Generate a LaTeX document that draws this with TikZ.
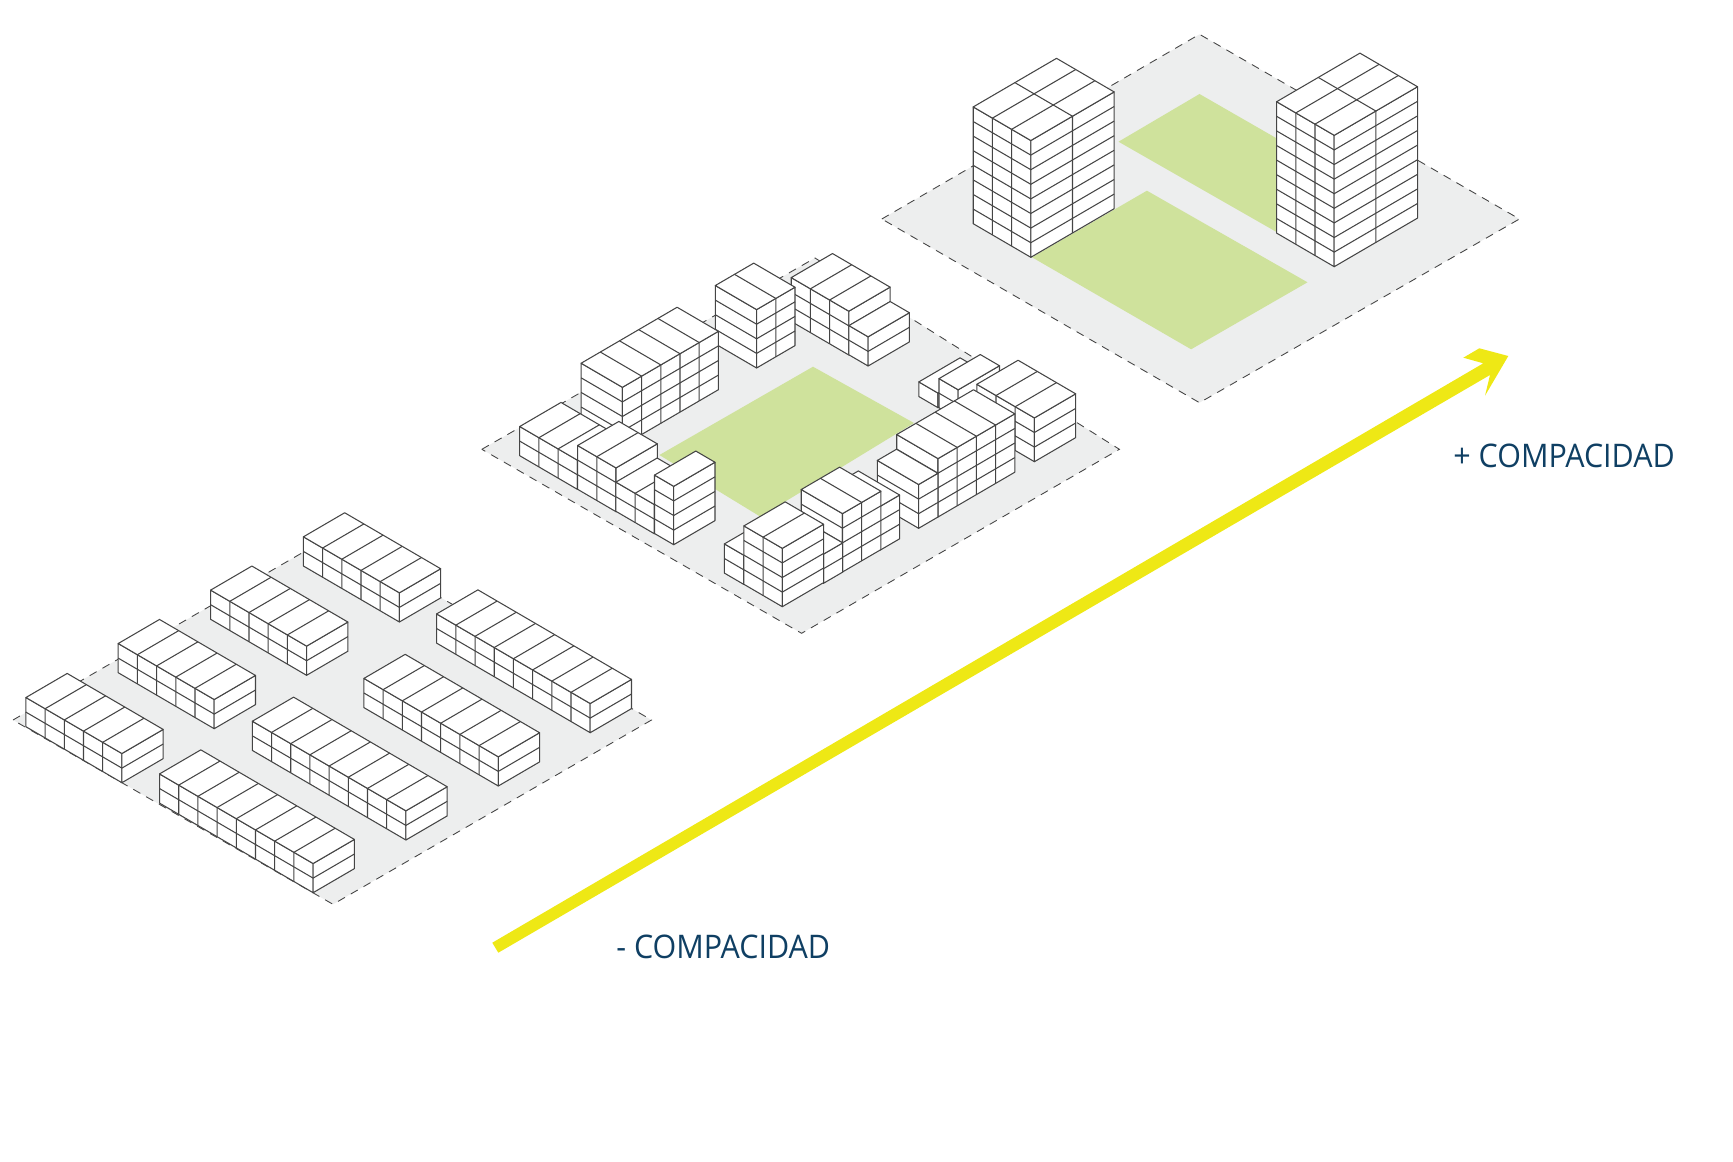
\documentclass[tikz,border=0pt]{standalone}
\usepackage{fontspec}
\setmainfont[FakeStretch=0.937]{Open Sans}
\definecolor{groundc}{HTML}{EDEEEE}
\definecolor{greenc}{HTML}{CFE29C}
\definecolor{arrowc}{HTML}{EEE815}
\definecolor{linec}{HTML}{454545}
\definecolor{textc}{HTML}{0F3F63}
% #1,#2 lowest front corner (px); #3 length along up-left, #4 divisions;
% #5 length along up-right, #6 divisions; #7 floors
\newcommand{\isobox}[7]{%
\begin{scope}[x={(-0.384cm,0.224cm)},y={(0.384cm,0.224cm)},z={(0cm,0.292cm)},xshift=#1*0.02cm,yshift=-#2*0.02cm]
\filldraw[blockface] (0,0,0)--(#3,0,0)--(#3,0,#7)--(0,0,#7)--cycle;
\filldraw[blockface] (0,0,0)--(0,#5,0)--(0,#5,#7)--(0,0,#7)--cycle;
\filldraw[blockface] (0,0,#7)--(#3,0,#7)--(#3,#5,#7)--(0,#5,#7)--cycle;
\foreach \k in {1,...,#7}{\ifnum\k<#7\relax\draw[blockline] (#3,0,\k)--(0,0,\k)--(0,#5,\k);\fi}
\foreach \i in {1,...,#4}{\ifnum\i<#4\relax
 \pgfmathsetmacro{\d}{\i*#3/#4}
 \draw[blockline] (\d,0,0)--(\d,0,#7)--(\d,#5,#7);\fi}
\foreach \j in {1,...,#6}{\ifnum\j<#6\relax
 \pgfmathsetmacro{\d}{\j*#5/#6}
 \draw[blockline] (0,\d,0)--(0,\d,#7)--(#3,\d,#7);\fi}
\end{scope}}
\tikzset{
 blockface/.style={fill=white,draw=linec,line width=0.6pt,line join=round},
 blockline/.style={draw=linec,line width=0.6pt},
 ground/.style={fill=groundc,draw=linec,line width=0.5pt,dash pattern=on 4.6pt off 3.8pt},
 lawn/.style={fill=greenc,draw=none},
 label/.style={text=textc,anchor=base west,inner sep=0pt,font=\fontsize{18.5pt}{20pt}\selectfont}
}
\begin{document}
\begin{tikzpicture}[x=0.02cm,y=-0.02cm]
\useasboundingbox (0,0) rectangle (1733,1162);
% low density
\filldraw[ground] (13,720)--(333,535)--(651.5,720)--(333,904.3)--cycle;
\isobox{399.4}{622}{5}{5}{2.15}{1}{2}
\isobox{306.6}{675.3}{5}{5}{2.15}{1}{2}
\isobox{590.2}{732.7}{8}{8}{2.15}{1}{2}
\isobox{214.2}{728.7}{5}{5}{2.15}{1}{2}
\isobox{498.3}{786}{7}{7}{2.15}{1}{2}
\isobox{121.9}{782.7}{5}{5}{2.15}{1}{2}
\isobox{405.9}{840}{8}{8}{2.15}{1}{2}
\isobox{313.1}{892.7}{8}{8}{2.15}{1}{2}
% medium density
\filldraw[ground] (481.8,449.3)--(815,258)--(1119.4,449.3)--(801.6,633.3)--cycle;
\fill[lawn] (813,366.7)--(914,423)--(760.4,516.7)--(659.4,455)--cycle;
\isobox{848.8}{355}{3}{3}{2.15}{1}{3}
\isobox{868.1}{366}{1}{1}{2.15}{1}{2}
\isobox{756.6}{368}{2.15}{1}{2}{2}{4}
\isobox{622.4}{445.7}{2.15}{1}{5}{5}{4}
\isobox{938}{407.7}{1}{1}{2.15}{1}{1}
\isobox{958.2}{419}{1}{1}{2.15}{1}{2}
\isobox{1034.4}{461.7}{3}{3}{2.15}{1}{3}
\isobox{938}{517}{2.15}{1}{4}{4}{4}
\isobox{918.6}{528.3}{2.15}{1}{1}{1}{3}
\isobox{577.3}{489.3}{3}{3}{2.15}{1}{2}
\isobox{616}{511.7}{2}{2}{2.15}{1}{3}
\isobox{654.3}{533.7}{2}{2}{2.15}{1}{2}
\isobox{673.7}{544.7}{1}{1}{2.15}{1}{4}
\isobox{880.4}{550}{2.15}{1}{1}{1}{3}
\isobox{842.5}{572}{2.15}{1}{2}{2}{4}
\isobox{823.5}{583.3}{2.15}{1}{1}{1}{2}
\isobox{743.6}{584.3}{1}{1}{2.15}{1}{2}
\isobox{782.3}{606.7}{2}{2}{2.15}{1}{4}
% high density
\filldraw[ground] (881.8,219)--(1199.5,34.3)--(1519.4,219)--(1199.5,402.7)--cycle;
\fill[lawn] (1199.5,94)--(1118.5,141.7)--(1276,231.7)--(1356,184)--cycle;
\fill[lawn] (1146.9,190.7)--(1307.5,282.3)--(1191.1,349.3)--(1032,257.3)--cycle;
\isobox{1030.8}{257.3}{3}{3}{4.34}{2}{8}
\isobox{1334.2}{266.7}{3}{3}{4.34}{2}{9}
% arrow and labels
\fill[arrowc] (492.3,942.7)--(1483.3,363.3)--(1463.3,357.7)--(1479.3,348.3)--(1508.3,356)--(1485,395.7)--(1490,375)--(498.3,952.7)--cycle;
\node[label] (plus) at (1453,467) {+ COMPACIDAD};
\node[label] (minus) at (616,958) {- COMPACIDAD};
\end{tikzpicture}
\end{document}
